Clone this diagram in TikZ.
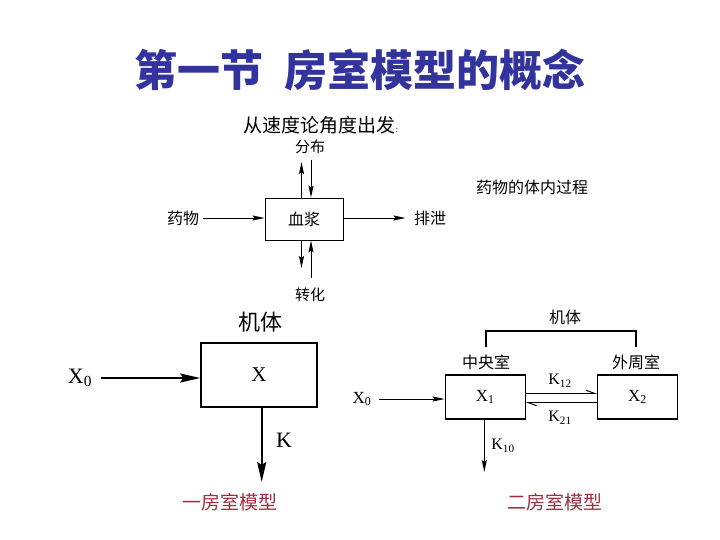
\documentclass[tikz,border=0pt]{standalone}
\usepackage{fontspec}
\setmainfont{Liberation Serif}
\newfontfamily\cjk{Noto Sans CJK SC}
\usepackage{xcolor}
\definecolor{titleblue}{rgb}{0.20,0.20,0.62}
\definecolor{modelred}{rgb}{0.62,0.18,0.25}
\usepackage{tikz}
\usetikzlibrary{arrows.meta,positioning}
\tikzset{
  flowA/.style={-{Stealth[length=12pt,width=5pt,inset=2pt]},line width=0.9pt},
  flowB/.style={-{Stealth[length=20pt,width=9pt,inset=3pt]},line width=2pt},
  flowC/.style={-{Stealth[length=12pt,width=5pt,inset=2pt]},line width=1pt},
  harp/.style={-{Straight Barb[left,length=8pt,width=6pt]},line width=1pt},
  boxA/.style={draw,line width=0.9pt,minimum width=78pt,minimum height=42pt,inner sep=0pt},
  boxB/.style={draw,line width=1.6pt,minimum width=116pt,minimum height=64pt,inner sep=0pt},
  boxC/.style={draw,line width=1.2pt,minimum width=80pt,minimum height=44pt,inner sep=0pt},
  ttl/.style={font=\cjk\bfseries\fontsize{43}{43}\selectfont,titleblue},
  lab/.style={font=\cjk\fontsize{#1}{#1}\selectfont},
  sym/.style={font=\fontsize{#1}{#1}\selectfont},
  mdl/.style={font=\cjk\fontsize{19}{19}\selectfont,modelred},
}
\begin{document}
\begin{tikzpicture}[x=1pt,y=-1pt]
  \useasboundingbox[fill=white] (0,0) rectangle (720,540);
  \node[ttl] (title) at (360,70) {第一节\hspace{0.5em}房室模型的概念};
  % 血浆
  \node[lab=19] (view) at (321,125) {从速度论角度出发{\fontsize{8}{8}\selectfont :}};
  \node[lab=16] (proc) at (532,187) {药物的体内过程};
  \node[boxA,lab=16] (plasma) at (304,219) {血浆};
  \node[lab=16] (drug) at (183,218) {药物};
  \node[lab=16] (excr) at (430,218) {排泄};
  \node[lab=15] (dist) at (310,147) {分布};
  \node[lab=15] (metab) at (310,295) {转化};
  \coordinate (distOut) at (301.5,162);
  \coordinate (distIn) at (311,160);
  \coordinate (metOut) at (301.5,268);
  \coordinate (metIn) at (311,278);
  \draw[flowA] (plasma.north -| distOut) -- (distOut);
  \draw[flowA] (distIn) -- (plasma.north -| distIn);
  \draw[flowA] (plasma.south -| metOut) -- (metOut);
  \draw[flowA] (metIn) -- (plasma.south -| metIn);
  \draw[flowA] (drug.east) -- (drug.east -| plasma.west);
  \draw[flowA,shorten >=5pt] (plasma.east |- excr.west) -- (excr.west);
  % 一房室模型
  \node[boxB,sym=21] (body) at (259,375) {X};
  \node[lab=22] (bodyT) at (260,322) {机体};
  \node[sym=22] (xin) at (80,378) {X\textsubscript{0}};
  \draw[flowB,shorten <=5pt] (xin.east) -- (xin.east -| body.west);
  \coordinate (outK) at (261.7,482);
  \draw[flowB] (body.south -| outK) -- (outK);
  \node[sym=22] (kel) at (284,440) {K};
  \node[mdl] (one) at (230,502) {一房室模型};
  % 二房室模型
  \node[boxC,sym=17] (cen) at (485.2,397) {X\textsubscript{1}};
  \node[boxC,sym=17] (per) at (637.5,397) {X\textsubscript{2}};
  \node[lab=16] (cenT) at (486,362) {中央室};
  \node[lab=16] (perT) at (636,362) {外周室};
  \node[lab=16] (body2) at (565,317) {机体};
  \draw[line width=1.1pt] ([yshift=4pt]cenT.north) -- ++(0,-16) -| ([yshift=4pt]perT.north);
  \draw[harp] ([yshift=3.7pt]cen.east) -- ([yshift=3.7pt]per.west);
  \draw[harp] ([yshift=-5.7pt]per.west) -- ([yshift=-5.7pt]cen.east);
  \node[sym=16] (k12) at (560,381) {K\textsubscript{12}};
  \node[sym=16] (k21) at (560,418) {K\textsubscript{21}};
  \node[sym=17] (xin2) at (362,399) {X\textsubscript{0}};
  \draw[flowC,shorten <=4pt] (xin2.east) -- (xin2.east -| cen.west);
  \coordinate (outK10) at (484.3,472);
  \draw[flowC] (cen.south -| outK10) -- (outK10);
  \node[sym=16] (k10) at (503,446) {K\textsubscript{10}};
  \node[mdl] (two) at (555,502) {二房室模型};
\end{tikzpicture}
\end{document}
